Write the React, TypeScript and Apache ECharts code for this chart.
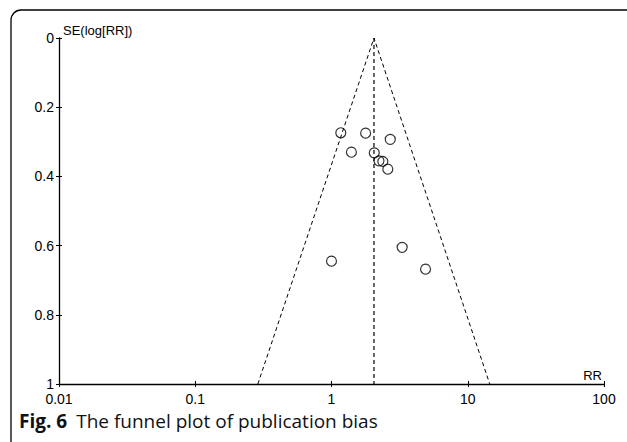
import React, { useEffect, useRef } from "react";
import * as echarts from "echarts";

// Study estimates (risk ratio) and their standard errors of log(RR)
const studyRR = [1.17, 1.78, 2.7, 1.4, 2.06, 2.23, 2.38, 2.59, 3.3, 4.9, 1.0];
const studySE = [0.274, 0.275, 0.293, 0.33, 0.332, 0.355, 0.357, 0.379, 0.605, 0.668, 0.645];
// Pooled estimate and funnel limits
const pooledRR = [2.05, 2.05];
const pooledSE = [0, 1];
const funnelRR = [0.288, 2.05, 14.5];
const funnelSE = [1, 0, 1];
// Tick labels
const xTickLabels = ["0.01", "0.1", "1", "10", "100"];
const yTickLabels = ["0", "0.2", "0.4", "0.6", "0.8", "1"];

const FONT = "Liberation Sans, Arial, sans-serif";

export default function App() {
  const ref = useRef<HTMLDivElement>(null);

  useEffect(() => {
    document.body.style.margin = "0";
    if (!ref.current) return;
    const chart = echarts.init(ref.current, undefined, { renderer: "svg" });

    const xFmt = (v: number) => {
      const i = Math.round(Math.log10(v)) + 2;
      return xTickLabels[i] ?? "";
    };
    const yFmt = (v: number) => {
      const i = Math.round(v / 0.2);
      return yTickLabels[i] ?? "";
    };

    const baseX = {
      type: "log" as const,
      logBase: 10,
      min: 0.01,
      max: 100,
      position: "bottom" as const,
      splitLine: { show: false },
    };
    const baseY = {
      type: "value" as const,
      min: 0,
      max: 1,
      interval: 0.2,
      inverse: true,
      position: "left" as const,
      splitLine: { show: false },
    };

    chart.setOption({
      animation: false,
      backgroundColor: "#ffffff",
      grid: { left: 59, top: 38, width: 545, height: 346, containLabel: false },
      xAxis: [
        {
          ...baseX,
          axisLine: { show: true, onZero: false, lineStyle: { color: "#000", width: 1.3 } },
          axisTick: { show: true, inside: false, length: 3, lineStyle: { color: "#000", width: 1 } },
          axisLabel: {
            show: true,
            margin: 8,
            color: "#000",
            fontFamily: FONT,
            fontSize: 14,
            lineHeight: 14,
            formatter: xFmt,
          },
        },
        {
          ...baseX,
          axisLine: { show: false, onZero: false },
          axisTick: { show: true, inside: true, length: 3, lineStyle: { color: "#000", width: 1 } },
          axisLabel: { show: false },
        },
      ],
      yAxis: [
        {
          ...baseY,
          axisLine: { show: true, onZero: false, lineStyle: { color: "#000", width: 1.3 } },
          axisTick: { show: true, inside: false, length: 3, lineStyle: { color: "#000", width: 1 } },
          axisLabel: {
            show: true,
            margin: 5,
            color: "#000",
            fontFamily: FONT,
            fontSize: 14,
            lineHeight: 12,
            formatter: yFmt,
          },
        },
        {
          ...baseY,
          axisLine: { show: false, onZero: false },
          axisTick: { show: true, inside: true, length: 3, lineStyle: { color: "#000", width: 1 } },
          axisLabel: { show: false },
        },
      ],
      series: [
        {
          type: "line",
          xAxisIndex: 0,
          yAxisIndex: 0,
          data: funnelRR.map((x, i) => [x, funnelSE[i]]),
          symbol: "none",
          silent: true,
          lineStyle: { color: "#000", width: 1, type: [4, 3] },
        },
        {
          type: "line",
          xAxisIndex: 0,
          yAxisIndex: 0,
          data: pooledRR.map((x, i) => [x, pooledSE[i]]),
          symbol: "none",
          silent: true,
          lineStyle: { color: "#000", width: 1.2, type: [4, 3] },
        },
        {
          type: "scatter",
          xAxisIndex: 0,
          yAxisIndex: 0,
          data: studyRR.map((x, i) => [x, studySE[i]]),
          symbol: "circle",
          symbolSize: 10,
          itemStyle: { color: "rgba(0,0,0,0)", borderColor: "#000", borderWidth: 1.2 },
        },
      ],
      graphic: [
        {
          type: "rect",
          shape: { x: 11, y: 10, width: 640, height: 445, r: 10 },
          style: { fill: "none", stroke: "#000", lineWidth: 1.3 },
          silent: true,
        },
        {
          type: "text",
          x: 63,
          y: 37,
          style: {
            text: "SE(log[RR])",
            fontFamily: FONT,
            fontSize: 13,
            fill: "#000",
            textVerticalAlign: "bottom",
            textAlign: "left",
          },
        },
        {
          type: "text",
          x: 602,
          y: 382,
          style: {
            text: "RR",
            fontFamily: FONT,
            fontSize: 13,
            fill: "#000",
            textVerticalAlign: "bottom",
            textAlign: "right",
          },
        },
        {
          type: "text",
          x: 19,
          y: 421,
          style: {
            text: "{b|Fig. 6}{n|The funnel plot of publication bias}",
            textVerticalAlign: "middle",
            rich: {
              b: {
                fontFamily: "Open Sans",
                fontWeight: "bold",
                fontSize: 19,
                fill: "#111",
                padding: [0, 9, 0, 0],
              },
              n: { fontFamily: "Open Sans", fontSize: 19, fill: "#111" },
            },
          },
        },
      ],
    });

    return () => chart.dispose();
  }, []);

  return (
    <div
      ref={ref}
      style={{ position: "fixed", left: 0, top: 0, width: 627, height: 442 }}
    />
  );
}
